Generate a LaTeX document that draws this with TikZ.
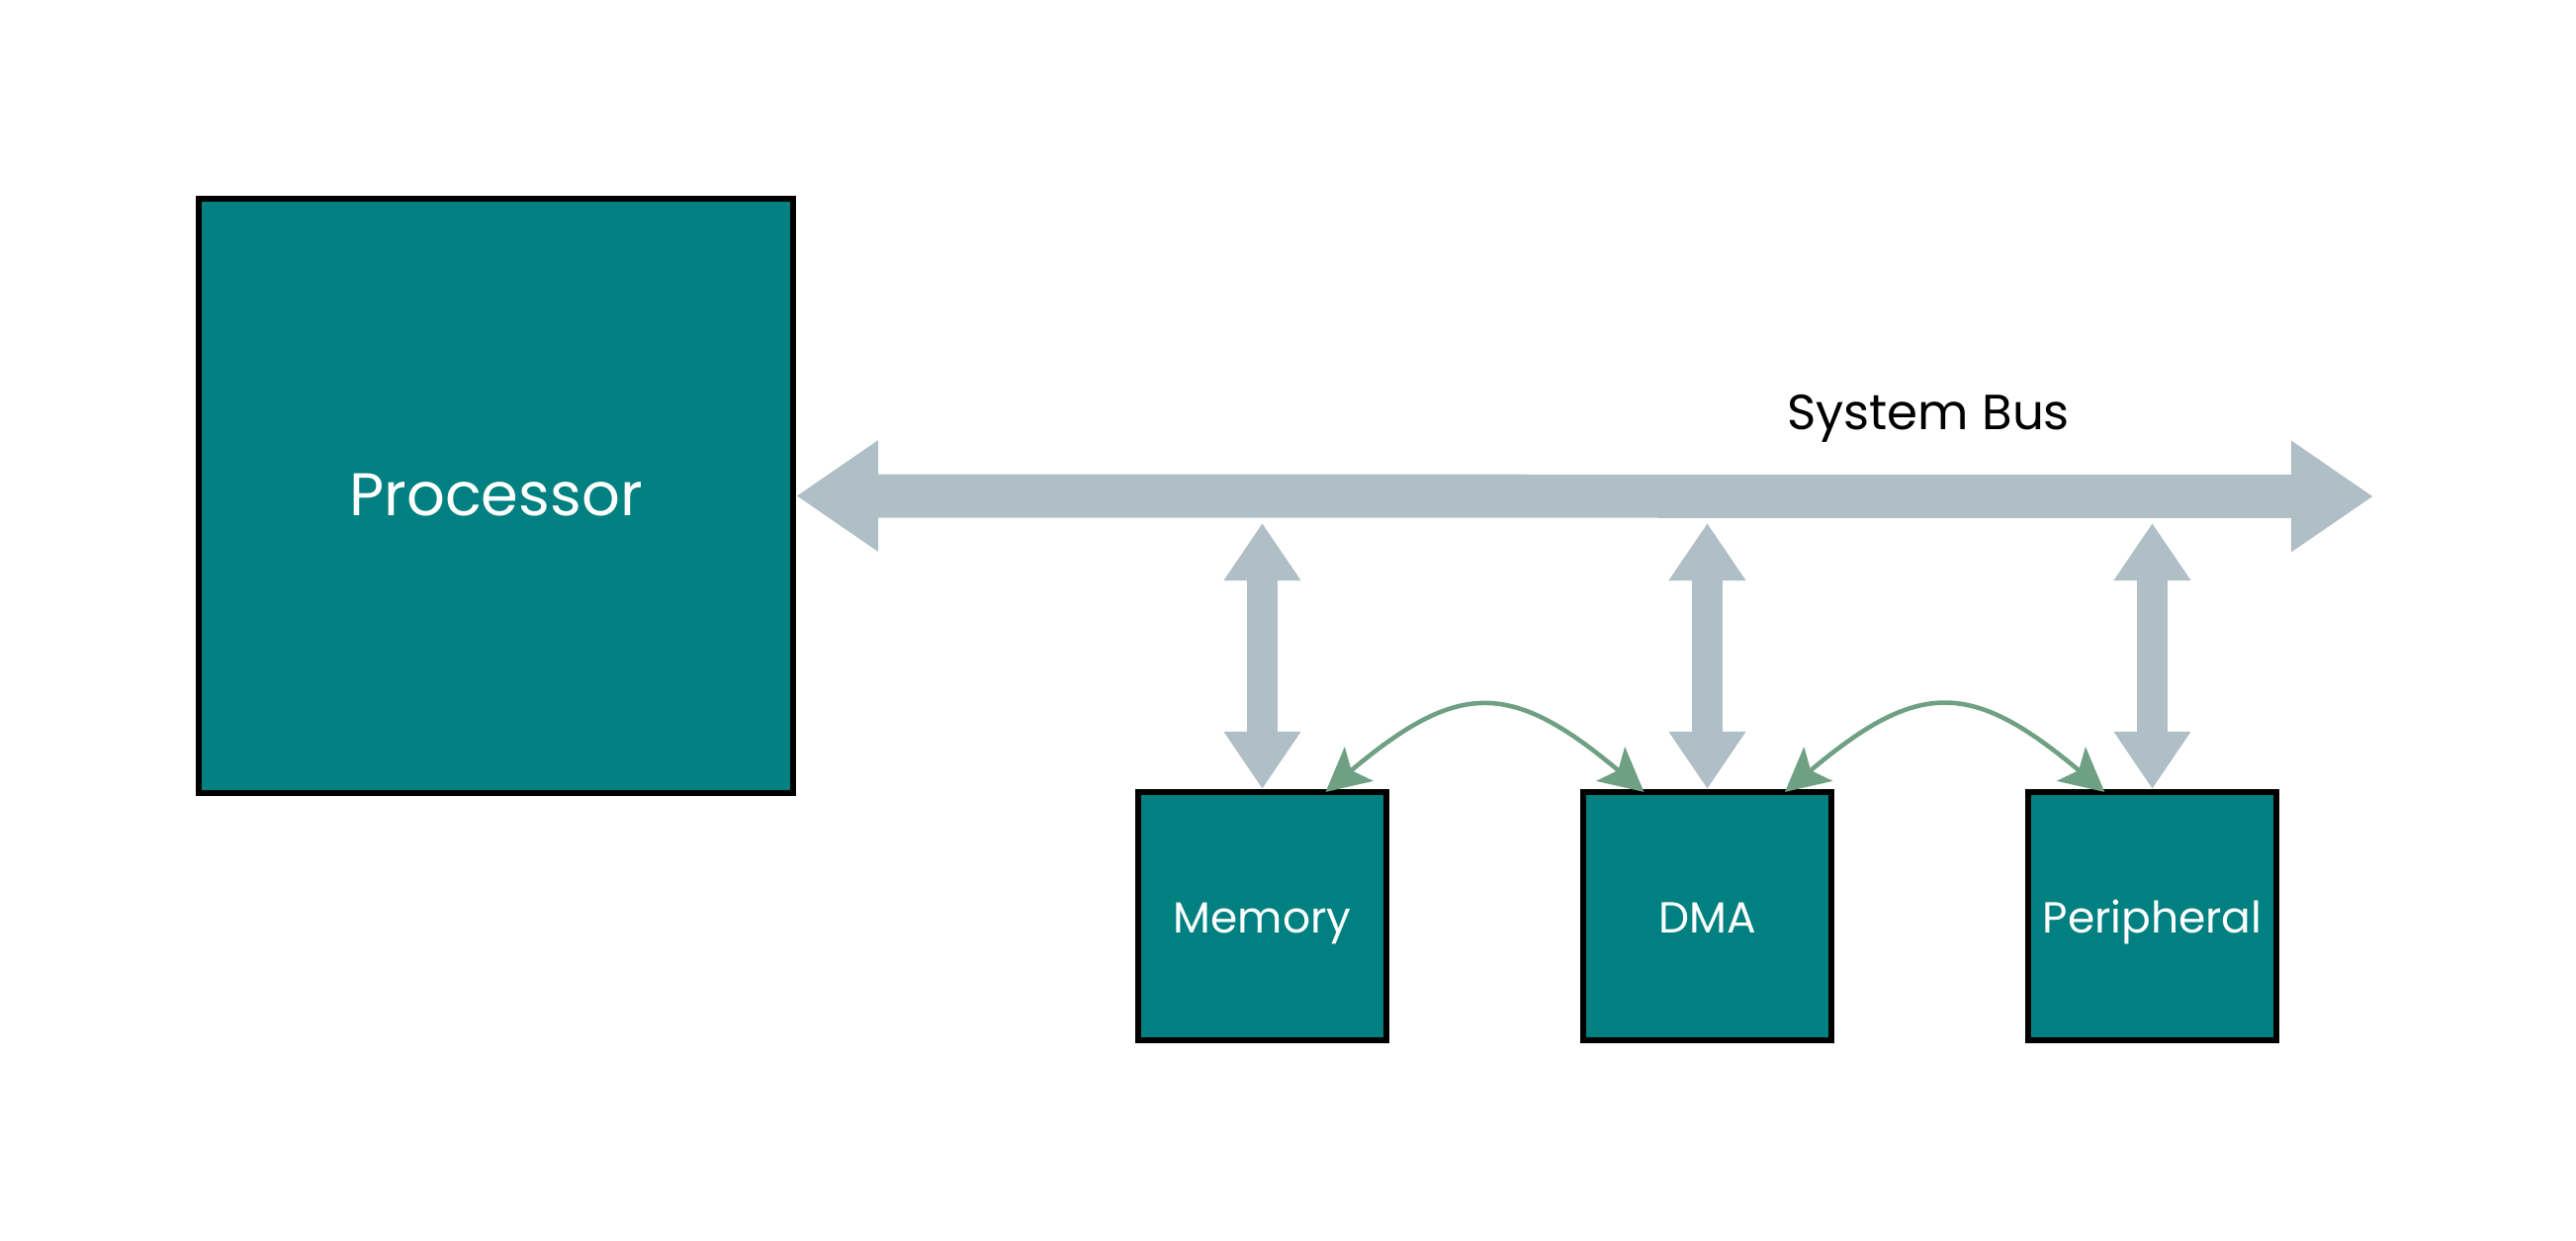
\documentclass[tikz,border=0pt]{standalone}
\usepackage{fontspec}
\setmainfont{Poppins}
\usetikzlibrary{arrows.meta}

\definecolor{teal}{HTML}{008080}
\definecolor{busgray}{HTML}{B0BEC5}
\definecolor{linkgreen}{HTML}{6FA083}

\tikzset{
  unit/.style={draw=black, line width=1.6pt, fill=teal, text=white, inner sep=0pt, outer sep=0pt,
    text depth=0pt},
  busarrow/.style={draw=busgray, line width=12.5pt,
    {Triangle[length=23.6pt,width=30.4pt]}-{Triangle[length=23.6pt,width=30.4pt]}},
  linkarrow/.style={draw=busgray, line width=8.8pt,
    {Triangle[length=16.5pt,width=21pt]}-{Triangle[length=16.5pt,width=21pt]}},
  dmaarrow/.style={draw=linkgreen, line width=1.3pt,
    {Stealth[length=12.5pt,width=12.7pt,inset=2.8pt]}-{Stealth[length=12.5pt,width=12.7pt,inset=2.8pt]}}
}

\begin{document}
\begin{tikzpicture}[x=0.01cm, y=-0.01cm]
  \useasboundingbox (0,0) rectangle (2605,1255);

  \node[unit, minimum size=6.01cm, text height=11.2pt, font=\fontsize{17.3}{21}\selectfont] (proc) at (501.5,501.5) {Processor};
  \node[unit, minimum size=2.51cm, text height=9.9pt, font=\fontsize{12.5}{15}\selectfont] (mem) at (1276.5,926.5) {Memory};
  \node[unit, minimum size=2.51cm, text height=9.9pt, font=\fontsize{12.5}{15}\selectfont] (dma) at (1726.5,926.5) {DMA};
  \node[unit, minimum size=2.51cm, text height=9.9pt, font=\fontsize{12.5}{15}\selectfont] (per) at (2176.5,926.5) {Peripheral};

  \coordinate (busR) at (2400,502);
  \coordinate (busgap) at (0,529);
  \node[text height=9.9pt, text depth=0pt, font=\fontsize{14.2}{17}\selectfont] (buslabel) at (1950,417) {System Bus};

  \draw[busarrow] ([xshift=0.03cm]proc.east) -- (busR);

  \draw[linkarrow] (mem.north |- busgap) -- ([yshift=0.03cm]mem.north);
  \draw[linkarrow] (dma.north |- busgap) -- ([yshift=0.03cm]dma.north);
  \draw[linkarrow] (per.north |- busgap) -- ([yshift=0.03cm]per.north);

  \draw[dmaarrow] (mem.63) to[out=40, in=140, looseness=1.4] (dma.117);
  \draw[dmaarrow] (dma.58) to[out=40, in=140, looseness=1.4] (per.111);
\end{tikzpicture}
\end{document}
